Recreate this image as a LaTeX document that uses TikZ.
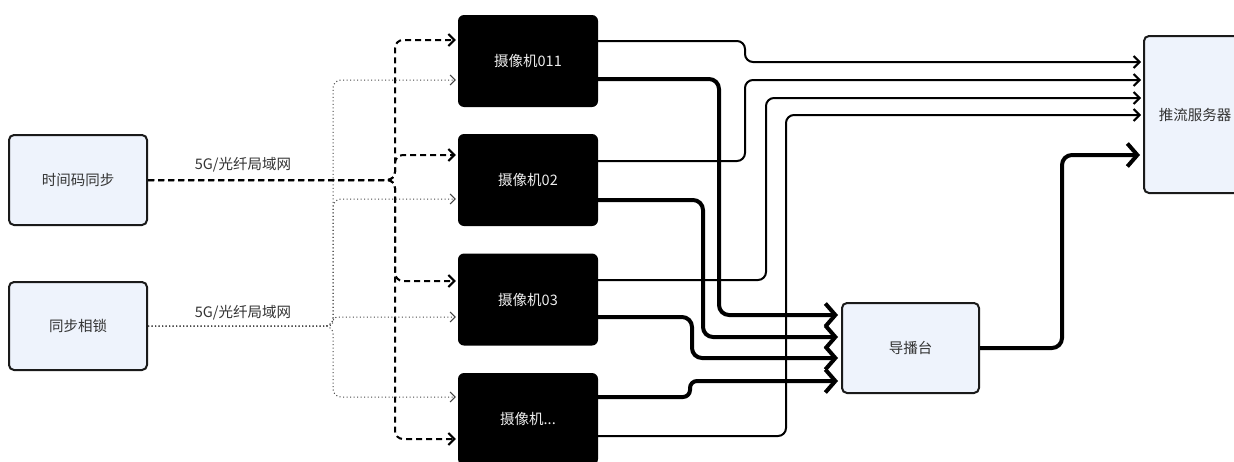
\documentclass[tikz,border=0pt]{standalone}
\usepackage{fontspec}
\newfontfamily\cjk{Noto Sans CJK SC}
\usetikzlibrary{arrows.meta}
\definecolor{boxfill}{HTML}{EEF3FC}
\definecolor{boxline}{HTML}{1A1A1A}
\definecolor{boxtext}{HTML}{333333}
\definecolor{camtext}{HTML}{EDEDED}
\definecolor{dotcol}{HTML}{444444}
\begin{document}
\begin{tikzpicture}[x=1pt,y=-1pt,
  txt/.style={font=\cjk\fontsize{14.5}{17}\selectfont},
  lightbox/.style={txt,draw=boxline,line width=2pt,fill=boxfill,rounded corners=5pt,text=boxtext,inner sep=0pt},
  cambox/.style={txt,fill=black,rounded corners=6pt,text=camtext,minimum width=140pt,minimum height=92pt,inner sep=0pt},
  lbl/.style={txt,text=boxtext,inner sep=0pt},
  thinarrow/.style={line width=2pt,rounded corners=8pt,shorten >=2pt,-{Straight Barb[length=6pt,width=12pt]}},
  thickarrow/.style={line width=4pt,rounded corners=10pt,shorten >=3pt,-{Straight Barb[length=10pt,width=23pt]}},
  dashline/.style={line width=2pt,dash pattern=on 6pt off 4pt,rounded corners=8pt,shorten >=2pt,-{Straight Barb[length=6pt,width=12pt]}},
  dotline/.style={draw=dotcol,line width=1pt,dash pattern=on 1pt off 2.5pt,rounded corners=8pt,shorten >=2pt,-{Straight Barb[length=5pt,width=10pt]}}
]
\clip (0,0) rectangle (1234,461);
\fill[white] (0,0) rectangle (1234,461);

% nodes
\node[lightbox,minimum width=138pt,minimum height=90pt] (tc) at (78,180) {时间码同步};
\node[lightbox,minimum width=138pt,minimum height=88pt] (sl) at (78,326) {同步相锁};
\node[cambox] (c1) at (528,61) {摄像机011};
\node[cambox] (c2) at (528,180) {摄像机02};
\node[cambox] (c3) at (528,299.5) {摄像机03};
\node[cambox] (c4) at (528,419) {摄像机...};
\node[lightbox,minimum width=137pt,minimum height=90pt] (dir) at (910.5,348) {导播台};
\node[lightbox,minimum width=102pt,minimum height=157pt] (srv) at (1195,114.5) {推流服务器};

% labels
\node[lbl] (l1) at (243,165) {5G/光纤局域网};
\node[lbl] (l2) at (243,313) {5G/光纤局域网};

% dashed timecode sync
\draw[dashline] (tc.east) -- (395,180) |- ([yshift=21pt]c1.west);
\draw[dashline] (tc.east) -- (395,180) |- ([yshift=25pt]c2.west);
\draw[dashline] (tc.east) -- (395,180) |- ([yshift=18.5pt]c3.west);
\draw[dashline] (tc.east) -- (395,180) |- ([yshift=-20pt]c4.west);

% dotted genlock
\draw[dotline] (sl.east) -- (333,326) |- ([yshift=-19pt]c1.west);
\draw[dotline] (sl.east) -- (333,326) |- ([yshift=-19pt]c2.west);
\draw[dotline,rounded corners=4pt] (sl.east) -- (333,326) |- ([yshift=-17.5pt]c3.west);
\draw[dotline] (sl.east) -- (333,326) |- ([yshift=22pt]c4.west);

% thin lines to server
\draw[thinarrow] ([yshift=20pt]c1.east) -- (745,41) -- (745,62) -- ([yshift=52.5pt]srv.west);
\draw[thinarrow] ([yshift=19pt]c2.east) -- (745,161) -- (745,80) -- ([yshift=34.5pt]srv.west);
\draw[thinarrow] ([yshift=19.5pt]c3.east) -- (766,280) -- (766,98) -- ([yshift=16.5pt]srv.west);
\draw[thinarrow] ([yshift=-17pt]c4.east) -- (786,436) -- (786,115) -- ([yshift=-0.5pt]srv.west);

% thick lines to director
\draw[thickarrow] ([yshift=-18pt]c1.east) -- (719,79) -- (719,315) -- ([yshift=33pt]dir.west);
\draw[thickarrow] ([yshift=-20pt]c2.east) -- (703,200) -- (703,337) -- ([yshift=11pt]dir.west);
\draw[thickarrow] ([yshift=-17.5pt]c3.east) -- (692,317) -- (692,358) -- ([yshift=-10pt]dir.west);
\draw[thickarrow,rounded corners=7pt] ([yshift=22pt]c4.east) -- (690,397) -- (690,381) -- ([yshift=-33pt]dir.west);

% director to server
\draw[thickarrow] (dir.east) -- (1062,348) -- (1062,155) -- ([yshift=-40.5pt]srv.west);
\end{tikzpicture}
\end{document}
